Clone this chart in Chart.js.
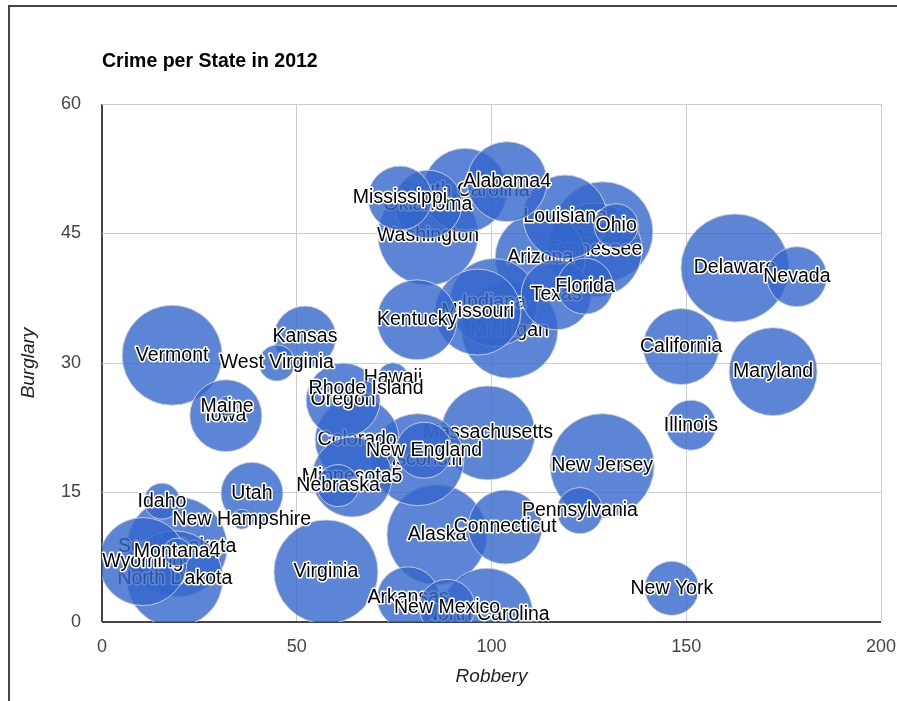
<!DOCTYPE html>
<html>
<head>
<meta charset="utf-8">
<script src="https://cdn.jsdelivr.net/npm/chart.js@4.4.1/dist/chart.umd.min.js"></script>
<style>
html,body{margin:0;padding:0;background:#fff;overflow:hidden;}
#wrap{position:absolute;left:0;top:0;width:897px;height:701px;}
#frame{position:absolute;left:8px;top:5px;width:900px;height:710px;border-top:2px solid #444;border-left:2px solid #444;pointer-events:none;}
canvas{position:absolute;left:0;top:0;}
</style>
</head>
<body>
<div id="wrap"><canvas id="c" width="897" height="701"></canvas><div id="frame"></div></div>
<script>
const chartTitle = 'Crime per State in 2012';
const xAxisTitle = 'Robbery';
const yAxisTitle = 'Burglary';
const xTicks = [0, 50, 100, 150, 200];
const yTicks = [0, 15, 30, 45, 60];

const states = ['Mississippi','Oklahoma','South Carolina','Alabama4','Washington','Louisiana','Ohio','Tennessee','Georgia','Arizona','Florida','Texas','Kentucky','Missouri','Indiana','Michigan','Kansas','West Virginia','Vermont','Maine','Iowa','Rhode Island','Hawaii','Oregon','Colorado','New England','Wisconsin','Massachusetts','Minnesota5','Nebraska','Illinois','California','Maryland','Delaware','Nevada','New Jersey','Pennsylvania','Connecticut','Alaska','New York','North Carolina','New Mexico','Arkansas','Virginia','Utah','New Hampshire','Idaho','Montana4','South Dakota','North Dakota','Wyoming'];
const robbery = [76.5,83.7,93.2,104.0,83.7,118.9,132.0,126.6,128.6,112.5,124.0,116.6,80.9,96.5,100.6,104.7,52.1,44.9,18.0,32.1,31.8,67.8,74.7,61.9,65.5,82.7,81.1,99.1,64.2,60.6,151.2,148.7,172.3,162.5,178.4,128.4,122.7,103.5,86.0,146.3,98.8,88.6,78.6,57.5,38.5,35.9,15.4,19.3,19.3,18.7,10.5];
const burglary = [49.1,48.4,50.0,51.0,44.8,46.9,45.9,43.1,45.2,42.2,38.9,37.9,35.0,35.9,37.0,33.8,33.0,30.0,30.9,25.0,23.9,27.0,28.3,25.7,21.1,19.9,18.8,21.9,16.8,15.8,22.8,31.9,29.0,41.0,40.0,18.1,12.9,11.0,10.1,3.9,0.9,1.7,2.8,5.8,14.9,11.9,14.0,8.1,8.7,5.0,7.0];
const bubbleSize = [32,34,42,40,50,42,22,47,50,45,28,35,40,43,44,48,31,18,50,10,36,8,15,37,42,28,46,47,40,21,25,38,44,54,30,52,23,37,50,27,46,28,31,52,31,10,18,14,50,48,44];

const sizeAxis = {minValue: Math.min(...bubbleSize), maxValue: Math.max(...bubbleSize), minRadius: 8, maxRadius: 54};
function radiusFor(v){
  return sizeAxis.minRadius + (v - sizeAxis.minValue) / (sizeAxis.maxValue - sizeAxis.minValue) * (sizeAxis.maxRadius - sizeAxis.minRadius);
}

const FONT = '"Liberation Sans", Arial, sans-serif';

const datasets = states.map((s, i) => ({
  label: s,
  data: [{x: robbery[i], y: burglary[i], r: radiusFor(bubbleSize[i])}],
  order: bubbleSize[i],
  backgroundColor: 'rgba(51,102,204,0.8)',
  borderColor: 'rgba(210,210,210,0.9)',
  borderWidth: 1,
  hoverBorderWidth: 1,
  clip: 0
}));

const bubbleLabels = {
  id: 'bubbleLabels',
  afterDatasetDraw(chart, args) {
    const el = args.meta.data[0];
    if (!el) return;
    const ctx = chart.ctx, a = chart.chartArea;
    ctx.save();
    ctx.beginPath();
    ctx.rect(a.left, a.top, a.right - a.left, a.bottom - a.top);
    ctx.clip();
    ctx.font = '19.5px ' + FONT;
    ctx.textAlign = 'center';
    ctx.textBaseline = 'middle';
    ctx.lineJoin = 'round';
    ctx.lineWidth = 3;
    ctx.strokeStyle = '#fff';
    const txt = chart.data.datasets[args.index].label;
    ctx.strokeText(txt, el.x, el.y);
    ctx.fillStyle = '#000';
    ctx.fillText(txt, el.x, el.y);
    ctx.restore();
  }
};

const titlePlugin = {
  id: 'leftTitle',
  afterDraw(chart) {
    const ctx = chart.ctx;
    ctx.save();
    ctx.font = 'bold 19.5px ' + FONT;
    ctx.fillStyle = '#000';
    ctx.textAlign = 'left';
    ctx.textBaseline = 'middle';
    ctx.fillText(chartTitle, chart.chartArea.left, 62);
    ctx.restore();
  }
};

const gridColor = c => (c.tick && c.tick.value === 0) ? '#444' : '#ccc';
const gridWidth = c => (c.tick && c.tick.value === 0) ? 2 : 1;

new Chart(document.getElementById('c'), {
  type: 'bubble',
  data: {datasets},
  options: {
    responsive: false,
    devicePixelRatio: 1,
    animation: false,
    events: [],
    layout: {autoPadding: false, padding: {top: 104, right: 16, bottom: 0, left: 0}},
    plugins: {legend: {display: false}, tooltip: {enabled: false}, title: {display: false}},
    scales: {
      x: {
        type: 'linear', min: 0, max: 200,
        afterBuildTicks: s => { s.ticks = xTicks.map(v => ({value: v})); },
        afterFit: s => { s.height = 79; s.paddingLeft = 0; s.paddingRight = 0; },
        border: {display: false},
        grid: {color: gridColor, lineWidth: gridWidth, drawTicks: false},
        ticks: {padding: 14, color: '#444', font: {family: FONT, size: 18}},
        title: {display: true, text: xAxisTitle, color: '#222', font: {family: FONT, size: 19, style: 'italic'}, padding: {top: 0, bottom: 13}}
      },
      y: {
        type: 'linear', min: 0, max: 60,
        afterBuildTicks: s => { s.ticks = yTicks.map(v => ({value: v})); },
        afterFit: s => { s.width = 102; s.paddingTop = 0; s.paddingBottom = 0; },
        border: {display: false},
        grid: {color: gridColor, lineWidth: gridWidth, drawTicks: false},
        ticks: {padding: 21, color: '#444', font: {family: FONT, size: 18}},
        title: {display: true, text: yAxisTitle, color: '#222', font: {family: FONT, size: 19, style: 'italic'}, padding: {top: 17, bottom: 0}}
      }
    }
  },
  plugins: [bubbleLabels, titlePlugin]
});
</script>
</body>
</html>
